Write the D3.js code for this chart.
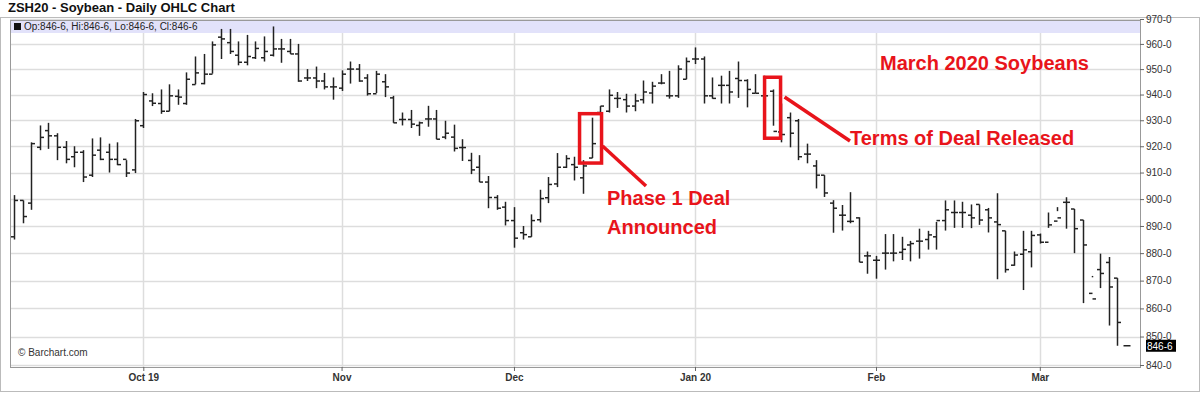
<!DOCTYPE html>
<html><head><meta charset="utf-8">
<script src="https://cdn.jsdelivr.net/npm/d3@7"></script>
<style>body{margin:0;background:#fff}svg{display:block;font-family:"Liberation Sans",Arial,sans-serif}</style>
</head><body><svg id="c" width="1200" height="405"></svg>
<script>
const opens  = [886,899.5,898.5,919.6,926,924,919.6,916,917.7,909,918.5,917.7,915,915,911,927.9,937.5,936.5,933.5,939.3,936.5,943.9,944.3,948,962.7,960.5,955.5,952.7,954.5,954.5,955.5,958,957,956,946.5,946.5,945.3,943,942.5,950,950,946.5,940.3,945,938.7,930.3,930.3,928,930.5,930.5,923.5,923.5,919.5,914.6,912,906.4,900.6,897,892,887.5,886,892.3,900.5,905.7,912,913,908,915.5,933,933.5,938.5,938,935.5,938,940.6,944.5,939.5,939.5,946,954,954,939.5,943.6,943.6,946.3,945.5,940.5,939.5,941.3,925.5,931,929.8,917,912.5,909,898.5,894,891.7,893,879,877.4,880,880,880.3,883,884.4,885,886,892,895,895,894,898,896,891.5,888.2,875.6,879.6,880.5,886.7,884,891.8,898.8,896.3,892.2,865.4,874,876.6,870.9,846.75];
const highs  = [901.5,899.5,921.5,928,929,925,922,920,918.5,923,923.4,921,921.5,914.7,930.5,941,940.5,942,944,942,948.7,955,956,961,966,966,961,963.6,961,963,967,962,962,960,950,951,948.5,946.7,949.5,953,952,948,949.3,948,939.5,933,934,929.5,935.6,934,929.8,928.3,922.7,917.5,916.6,908.7,901.5,899,897,890,894.3,903.5,908.3,917.4,916.6,916,914.7,931,935.5,942,941,940.3,940.3,945.5,945,948,949.3,951.5,954.6,958.6,955,946.7,947.4,949.3,953,946,948,947.4,942,936.5,933,930.5,921,914.7,909,899.6,897.8,902.6,893.2,880.6,879,887,887,886,884.5,889,888.2,891.5,899.5,899.5,899,898,898,896.7,902.2,888.2,880.6,888.2,888.2,887.2,895,895.5,900.7,896.3,892.2,871.7,879.8,878.6,870.9,846.75];
const lows   = [885,891,896,918.5,919,914.7,913.5,912,906.4,908.3,914.7,910,912.8,908.3,909.8,927,935.5,932.5,933.5,936,936,944,944,948.2,954,956,951.5,951.5,954,953,955,952.5,956,945,945.3,942.5,942,938,941.4,944.3,945,939.6,940.6,939,929,928,927,924,927.5,922.7,922.7,918,914.4,909.4,906.4,896.6,896,890.2,882,885,886,891.3,898.5,904.5,911.7,907,902,915.5,933,933,934.8,933,933.5,936.5,936.5,944,938.4,938.7,946,952,936.5,938.4,936.5,936.5,938.7,935,940.5,938.7,927.9,921.5,919.6,914.7,913.5,904,900.8,887.5,888.3,891,876.7,872.5,870.7,874,877,877.5,877,878,881.3,881.3,888.3,889.3,889.3,889.2,890.4,887.6,870.5,872.9,875.4,866.6,874.8,883.5,889.3,897,889,880,861.9,871.2,867.3,853.9,846.75];
const closes = [899.5,893.5,921,923.4,924,919.6,915,917.7,908.3,916.6,915,915,913,909.8,929.8,940,936.6,933.5,939.5,939,946,948.5,948,959.6,962,957,952.7,955,958.2,957,958,958,956,945.3,946.5,945.3,943,943,948,950,945.3,940.3,948,943,929,930.3,928.5,929,930.5,922.7,925,919.2,919.5,911,906.4,900.6,896.6,892,885.5,886.8,892,900.2,905.5,912,915.3,912,912.5,921,935.5,939.7,938.5,935.5,937.5,941,943.3,944.5,939.5,950,953,954,939.5,938.5,943.6,941,945.5,942,940.5,939.5,925.7,924.5,925,916,917,909,902.3,896.6,894,891.7,876.7,879,877.4,880,880,881.4,883.5,884.4,886.7,892,896,895,895,893,892.2,893,890.5,874,879.3,881.2,886.5,884,890.4,893,898.8,889,883,863.4,872.6,867.7,855,846.75];
const yTicks = [970,960,950,940,930,920,910,900,890,880,870,860,850,840];
const xTickIdx = [15,38,58,79,100,119];
const xTickLabels = ["Oct 19","Nov","Dec","Jan 20","Feb","Mar"];
const lastPrice = 846.75;

const svg = d3.select("#c");
const L=10,R=1140,T=20,B=367;
const x = d3.scalePoint().domain(d3.range(opens.length)).range([14,1126]);
const y = d3.scaleLog().domain([840,970]).range([365,19]);
const fmt = v => { const w=Math.floor(v+1e-9); return w+"-"+Math.round((v-w)*8); };

svg.append("rect").attr("x",0.5).attr("y",17.5).attr("width",1199).attr("height",374).attr("fill","none").attr("stroke","#bbb");
const g = svg.append("g");
g.selectAll(".hg").data(yTicks).join("line").attr("x1",L).attr("x2",R).attr("y1",d=>Math.round(y(d))+0.5).attr("y2",d=>Math.round(y(d))+0.5).attr("stroke","#ddd").attr("stroke-width",1.5);
g.selectAll(".vg").data(xTickIdx).join("line").attr("x1",d=>Math.round(x(d))+0.5).attr("x2",d=>Math.round(x(d))+0.5).attr("y1",T).attr("y2",B).attr("stroke","#ddd").attr("stroke-width",1.5);
svg.append("rect").attr("x",L).attr("y",T).attr("width",R-L).attr("height",13).attr("fill","#e2e2fa");
svg.append("rect").attr("x",L+4).attr("y",T+3).attr("width",7).attr("height",7).attr("fill","#111");
svg.append("text").attr("x",L+14).attr("y",T+10).attr("font-size",10).attr("fill","#222")
  .text(`Op:${fmt(lastPrice)}, Hi:${fmt(lastPrice)}, Lo:${fmt(lastPrice)}, Cl:${fmt(lastPrice)}`);
svg.append("rect").attr("x",L+0.5).attr("y",T+0.5).attr("width",R-L).attr("height",B-T).attr("fill","none").attr("stroke","#999");
svg.append("text").attr("x",8).attr("y",12).attr("font-size",13).attr("font-weight","bold").attr("fill","#111").text("ZSH20 - Soybean - Daily OHLC Chart");
const bars = svg.append("g").attr("stroke","#222").attr("stroke-width",1.5);
opens.forEach((o,i)=>{
  const cx = Math.round(x(i))+0.5;
  if (i===opens.length-1){ bars.append("line").attr("x1",cx-3).attr("x2",cx+4).attr("y1",y(o)).attr("y2",y(o)); return; }
  bars.append("line").attr("x1",cx).attr("x2",cx).attr("y1",y(highs[i])).attr("y2",y(lows[i]));
  bars.append("line").attr("x1",cx-3.5).attr("x2",cx).attr("y1",y(o)).attr("y2",y(o));
  bars.append("line").attr("x1",cx).attr("x2",cx+3.5).attr("y1",y(closes[i])).attr("y2",y(closes[i]));
});
const ax = svg.append("g").attr("transform",`translate(${R},0)`).call(d3.axisRight(y).tickValues(yTicks).tickFormat(fmt).tickSize(4));
ax.select(".domain").remove();
ax.selectAll("text").attr("font-size",10).attr("fill","#333").attr("x",6);
ax.selectAll("line").attr("stroke","#666");
svg.append("rect").attr("x",R+6).attr("y",y(lastPrice)-6).attr("width",30).attr("height",12).attr("fill","#000");
svg.append("text").attr("x",R+7).attr("y",y(lastPrice)+4).attr("font-size",10).attr("fill","#fff").text(fmt(lastPrice));
const bx = svg.append("g").attr("transform",`translate(0,${B})`).call(d3.axisBottom(x).tickValues(xTickIdx).tickFormat((d,i)=>xTickLabels[i]).tickSize(4));
bx.select(".domain").remove();
bx.selectAll("text").attr("font-size",10).attr("font-weight","bold").attr("fill","#333");
bx.selectAll("line").attr("stroke","#666");
svg.append("text").attr("x",18).attr("y",356).attr("font-size",10).attr("fill","#333").text("© Barchart.com");
const red="#e8141b";
const i1=67,i2=88;
svg.append("rect").attr("x",x(i1)-12).attr("y",y(931)-4).attr("width",22).attr("height",y(915.5)-y(931)+9).attr("fill","none").attr("stroke",red).attr("stroke-width",3.5);
svg.append("rect").attr("x",x(i2)-8).attr("y",y(946)-2).attr("width",16).attr("height",y(925)-y(946)+7).attr("fill","none").attr("stroke",red).attr("stroke-width",3.5);
svg.append("line").attr("x1",x(i1)+11).attr("y1",146).attr("x2",646).attr("y2",186).attr("stroke",red).attr("stroke-width",3.5);
svg.append("line").attr("x1",x(i2)+12).attr("y1",97).attr("x2",850).attr("y2",141).attr("stroke",red).attr("stroke-width",3.5);
function txt(xx,yy,s){svg.append("text").attr("x",xx).attr("y",yy).attr("font-size",20).attr("font-weight","bold").attr("fill",red).text(s);}
txt(607,205,"Phase 1 Deal");txt(607,234,"Announced");txt(850,145,"Terms of Deal Released");txt(880,70,"March 2020 Soybeans");
</script></body></html>
